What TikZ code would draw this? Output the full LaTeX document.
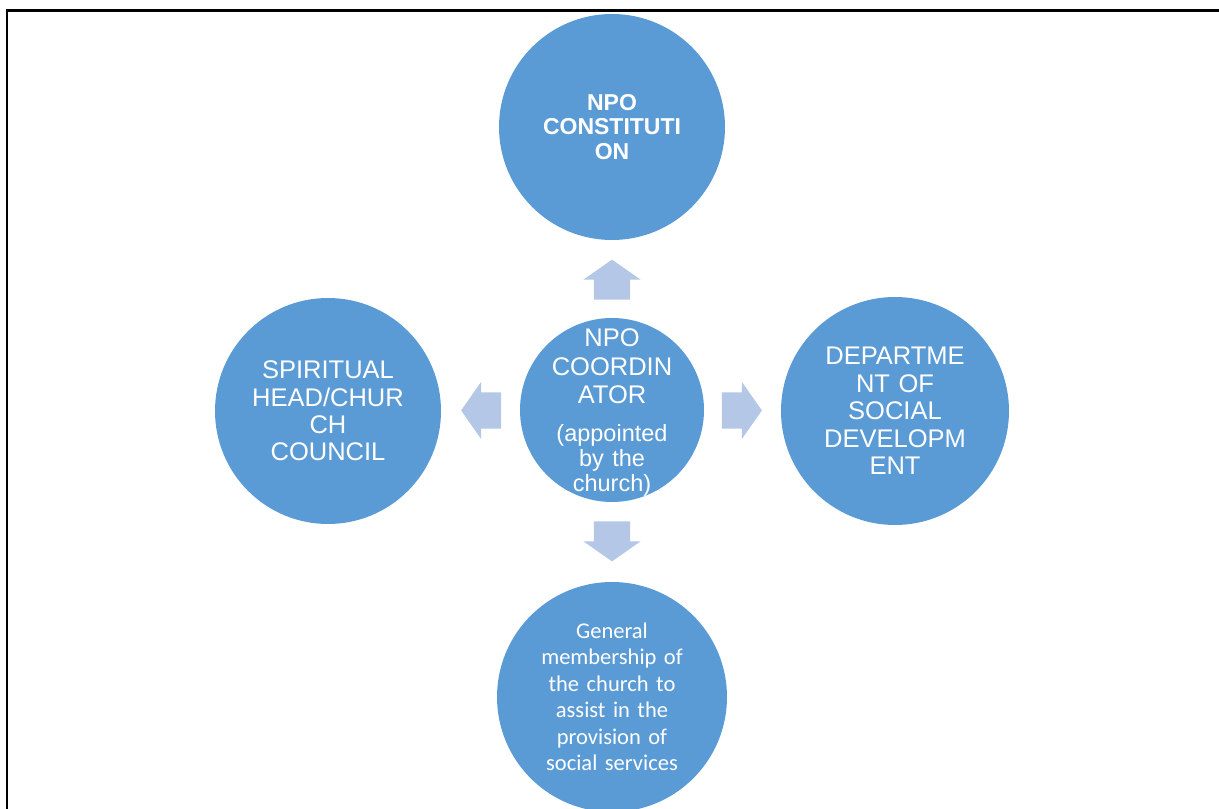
\documentclass[tikz,border=0pt]{standalone}
\usepackage{fontspec}
\setmainfont{Liberation Sans}
\newfontfamily\calibri{Carlito}
\usetikzlibrary{shapes.arrows}
\definecolor{bubbleblue}{HTML}{5B9BD5}
\definecolor{arrowblue}{HTML}{B4C7E7}

\begin{document}
\begin{tikzpicture}
[x=1pt, y=1pt,
bubble/.style = {shape=circle, fill=bubbleblue, inner sep=0pt},
words/.style = {text=white, align=center, text width=200pt, inner sep=0pt},
pointer/.style = {single arrow, fill=arrowblue, inner sep=0pt,
	minimum height=40pt, minimum width=57pt, xshift=-7pt,
	single arrow head extend=10.5pt, single arrow tip angle=110}]
 \tikzstyle{big}=[font=\fontsize{25.5}{27.4}\selectfont]
 \tikzstyle{heavy}=[font=\bfseries\fontsize{23}{24.4}\selectfont]
 \tikzstyle{small}=[font=\calibri\fontsize{22.5}{26.5}\selectfont]

 \useasboundingbox (0,0) rectangle (1219,809);
 \draw[line width=2.5pt] (7,-5) -- (7,798.5) -- (1230,798.5);

 \node[bubble, minimum size=184pt] (coord) at (612,399) {};
 \node[bubble, minimum size=226pt] (constitution) at (612,682) {};
 \node[bubble, minimum size=226pt] (church) at (328,398) {};
 \node[bubble, minimum size=228pt] (dsd) at (895,398) {};
 \node[bubble, minimum size=230pt] (members) at (612,112) {};

 \node[words, heavy] (constitution-t) at (constitution) {NPO\\CONSTITUTI\\ON};
 \node[words, big] (church-t) at (church) {SPIRITUAL\\HEAD/CHUR\\CH\\COUNCIL};
 \node[words, big] (dsd-t) at (dsd) {DEPARTME\\NT OF\\SOCIAL\\DEVELOPM\\ENT};
 \node[words, small] (members-t) at (members)
 	{General\\membership of\\the church to\\assist in the\\provision of\\social services};
 \node[words, font=\fontsize{25.5}{28.5}\selectfont, yshift=-3pt] (coord-t) at (coord)
 	{NPO\\COORDIN\\ATOR\par
 	\vspace{13pt}
 	\fontsize{23.5}{25}\selectfont (appointed\\by the\\church)\par};

 \path (coord) -- (constitution) node[midway, rotate=90, pointer] {\rule{0pt}{36pt}};
 \path (coord) -- (members) node[midway, rotate=270, pointer] {\rule{0pt}{36pt}};
 \path (coord) -- (church) node[midway, rotate=180, pointer] {\rule{0pt}{36pt}};
 \path (coord) -- (dsd) node[midway, pointer] {\rule{0pt}{36pt}};
\end{tikzpicture}
\end{document}
